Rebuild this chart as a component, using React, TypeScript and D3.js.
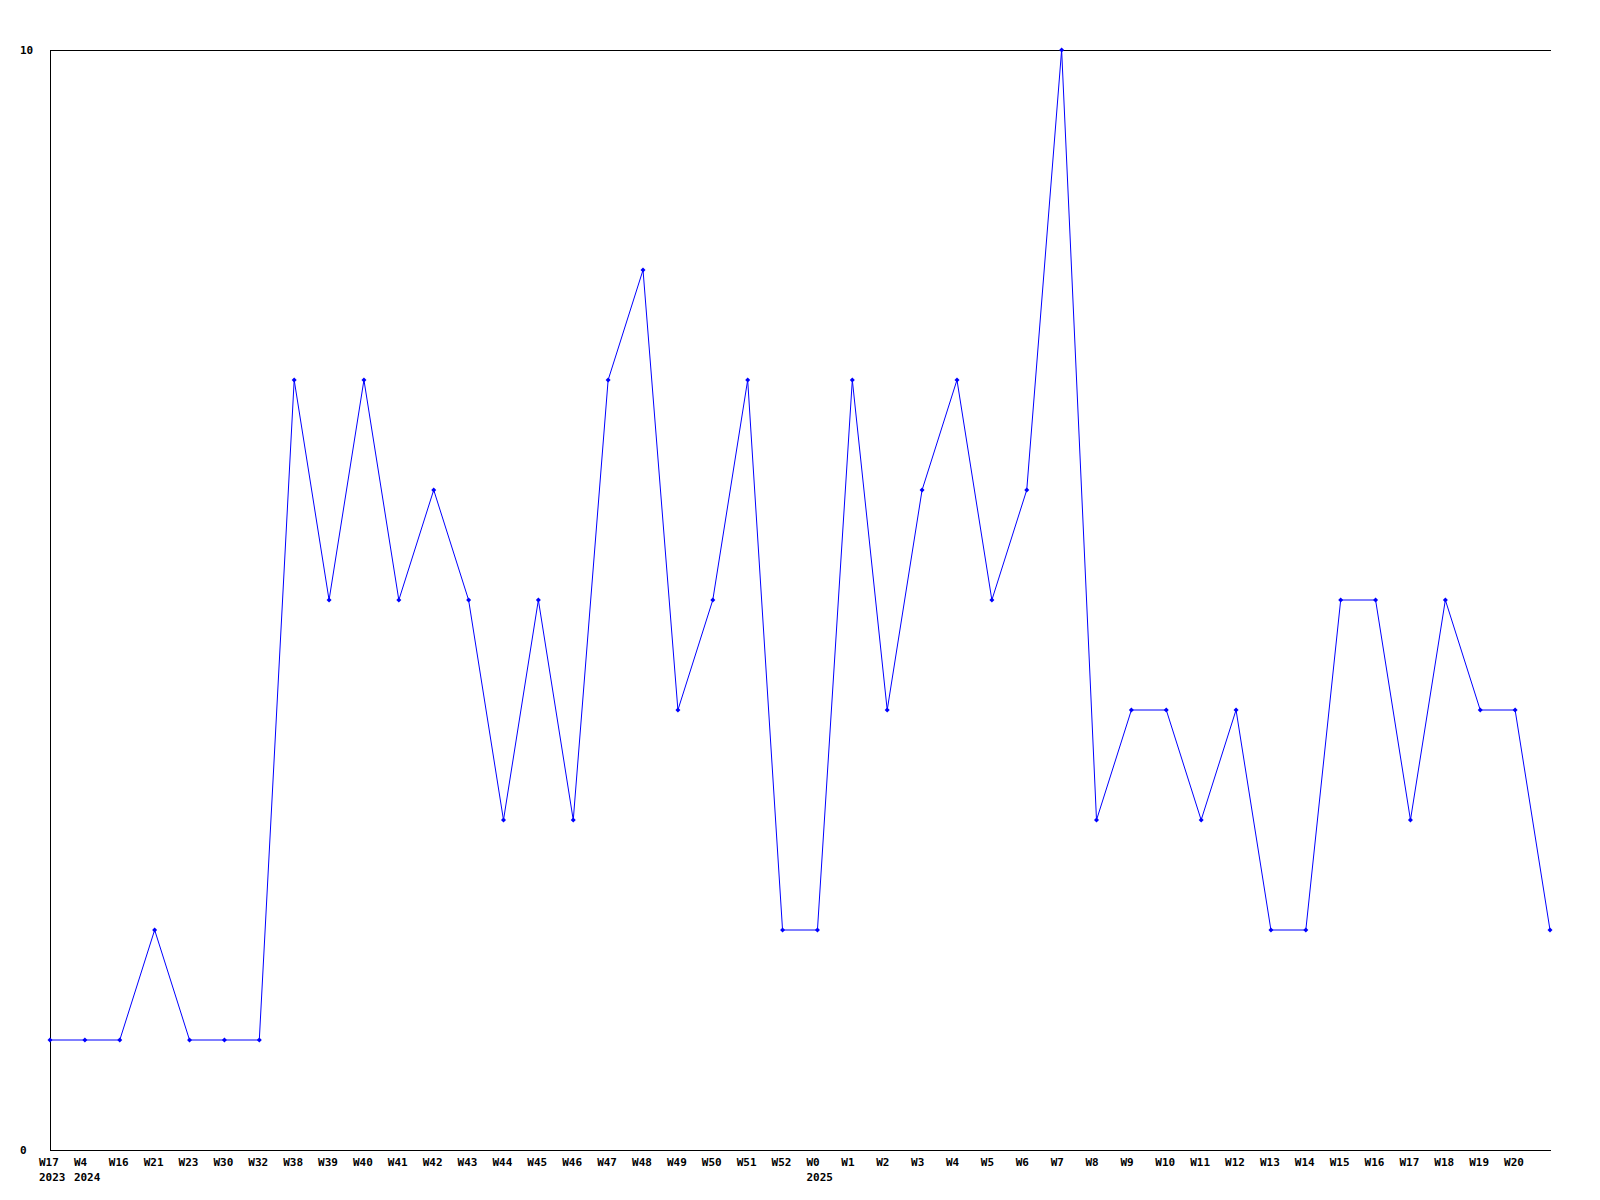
import React from "react";
import * as d3 from "d3";

const weekLabels = ["W17","W4","W16","W21","W23","W30","W32","W38","W39","W40","W41","W42","W43","W44","W45","W46","W47","W48","W49","W50","W51","W52","W0","W1","W2","W3","W4","W5","W6","W7","W8","W9","W10","W11","W12","W13","W14","W15","W16","W17","W18","W19","W20",""];
const yearLabels = ["2023","2024","","","","","","","","","","","","","","","","","","","","","2025","","","","","","","","","","","","","","","","","","","","",""];
const values = [1,1,1,2,1,1,1,7,5,7,5,6,5,3,5,3,7,8,4,5,7,2,2,7,4,6,7,5,6,10,3,4,4,3,4,2,2,5,5,3,5,4,4,2];
const yTicks = [0, 10];

export default function App() {
  const left = 50, right = 1550, top = 50, bottom = 1150;
  const x = d3.scaleLinear().domain([0, values.length - 1]).range([left, right]);
  const y = d3.scaleLinear().domain([0, 10]).range([bottom, top]);
  const line = d3.line<number>().x((_, i) => x(i)).y((d) => y(d));
  const font = "'DejaVu Sans Mono', monospace";
  return (
    <svg width={1600} height={1200} style={{ position: "absolute", left: 0, top: 0, background: "#fff" }}>
      <rect x={0} y={0} width={1600} height={1200} fill="#fff" />
      <g shapeRendering="crispEdges" stroke="#000" strokeWidth={1}>
        <line x1={left + 0.5} x2={left + 0.5} y1={top} y2={bottom + 1} />
        <line x1={left} x2={right + 1} y1={top + 0.5} y2={top + 0.5} />
        <line x1={left} x2={right + 1} y1={bottom + 0.5} y2={bottom + 0.5} />
      </g>
      <path d={line(values) || ""} fill="none" stroke="#0000ff" strokeWidth={1} />
      {values.map((v, i) => (
        <path key={i} d={`M${x(i)},${y(v) - 2.5}L${x(i) + 2.5},${y(v)}L${x(i)},${y(v) + 2.5}L${x(i) - 2.5},${y(v)}Z`} fill="#0000ff" />
      ))}
      <g fontFamily={font} fontSize={11} fontWeight="bold" fill="#000">
        {yTicks.map((t) => (
          <text key={t} x={20} y={y(t) + 4}>{t}</text>
        ))}
        {weekLabels.map((l, i) => (
          <text key={"w" + i} x={x(i) - 11} y={1166}>{l}</text>
        ))}
        {yearLabels.map((l, i) => (
          <text key={"y" + i} x={x(i) - 11} y={1181}>{l}</text>
        ))}
      </g>
    </svg>
  );
}
